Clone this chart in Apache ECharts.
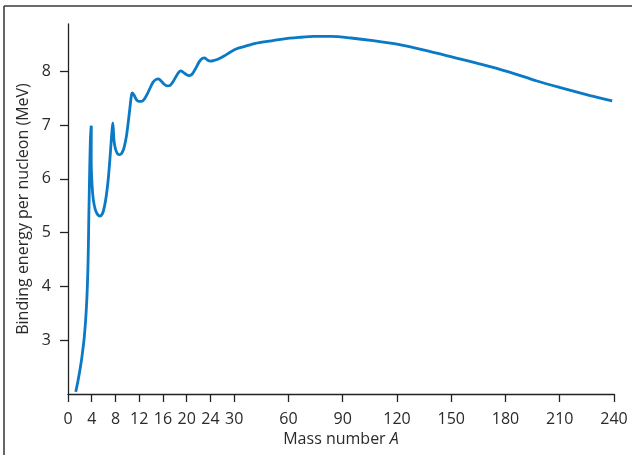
<!DOCTYPE html>
<html>
<head>
<meta charset="utf-8">
<script src="https://cdn.jsdelivr.net/npm/echarts@6/dist/echarts.min.js"></script>
<style>
html,body{margin:0;padding:0;background:#fff;}
#chart{width:632px;height:455px;}
</style>
</head>
<body>
<div id="chart"></div>
<script>
// Mass number A (along the drawn curve, in drawing order)
const massNumber = [
  1.30, 1.64, 1.95, 2.22, 2.45, 2.71, 2.98, 3.17, 3.30, 3.39, 3.45, 3.50, 3.56, 3.62, 3.69, 3.77, 3.89, 3.93,
  3.91, 4.05, 4.27, 4.60, 5.03, 5.37, 5.79, 6.13, 6.47, 6.80, 7.11, 7.35, 7.53,
  7.63, 7.74, 7.99, 8.33, 8.75, 9.17, 9.51, 9.85, 10.19, 10.50, 10.70, 10.87,
  11.12, 11.55, 11.97, 12.42, 12.90, 13.32, 13.83, 14.34, 14.85, 15.27, 15.69,
  16.20, 16.71, 17.22, 17.72, 18.23, 18.65, 18.99, 19.42, 19.92, 20.43, 20.94,
  21.53, 22.12, 22.63, 23.05, 23.48, 23.99, 24.74, 26.0, 27.54, 29.06,
  31.3, 36.3, 41.8, 49.1, 56.8, 65.7, 74.1, 83.5, 94.6, 106.8, 120.7, 135.7,
  151.3, 166.8, 181.8, 197.4, 212.4, 226.8, 239.0
];
// Binding energy per nucleon (MeV)
const bindingEnergy = [
  2.04, 2.22, 2.41, 2.59, 2.78, 3.02, 3.39, 3.76, 4.13, 4.50, 4.87, 5.24, 5.61, 5.98, 6.35, 6.72, 6.96, 6.99,
  6.35, 5.89, 5.61, 5.43, 5.33, 5.31, 5.35, 5.48, 5.70, 6.02, 6.44, 6.81, 7.04,
  6.94, 6.72, 6.56, 6.47, 6.45, 6.50, 6.61, 6.80, 7.09, 7.39, 7.56, 7.60,
  7.56, 7.47, 7.44, 7.44, 7.49, 7.57, 7.69, 7.80, 7.85, 7.86, 7.82,
  7.76, 7.73, 7.74, 7.81, 7.91, 7.98, 8.01, 7.98, 7.94, 7.92, 7.95,
  8.06, 8.18, 8.24, 8.25, 8.21, 8.19, 8.20, 8.23, 8.29, 8.36,
  8.42, 8.47, 8.52, 8.56, 8.60, 8.63, 8.65, 8.65, 8.62, 8.57, 8.50, 8.39,
  8.26, 8.13, 7.99, 7.82, 7.68, 7.55, 7.45
];
// x-axis tick labels and their slots on the (broken) mass scale
const xTickValues = [0, 4, 8, 12, 16, 20, 24, 30, 60, 90, 120, 150, 180, 210, 240];
const xTickSlots  = [0, 1, 2, 3, 4, 5, 6, 7, 9.285, 11.57, 13.855, 16.14, 18.425, 20.71, 22.995];
const yTickValues = [3, 4, 5, 6, 7, 8];

function warp(a) {
  for (let i = 0; i < xTickValues.length - 1; i++) {
    const a0 = xTickValues[i], a1 = xTickValues[i + 1];
    if (a <= a1 || i === xTickValues.length - 2) {
      return xTickSlots[i] + (a - a0) / (a1 - a0) * (xTickSlots[i + 1] - xTickSlots[i]);
    }
  }
}

const seriesData = massNumber.map((a, i) => [warp(a), bindingEnergy[i]]);
const font = 'Open Sans';
const txt = '#2a2a2a';

const chart = echarts.init(document.getElementById('chart'));
chart.setOption({
  animation: false,
  backgroundColor: '#fff',
  grid: { left: 68, right: 18, top: 24, bottom: 61 },
  xAxis: {
    type: 'value',
    min: 0,
    max: xTickSlots[xTickSlots.length - 1],
    name: 'Mass number {i|A}',
    nameLocation: 'middle',
    nameGap: 36,
    nameTextStyle: {
      color: txt, fontFamily: font, fontSize: 16,
      rich: { i: { fontStyle: 'italic', color: txt, fontFamily: font, fontSize: 16 } }
    },
    axisLine: { show: true, lineStyle: { color: '#222', width: 1.3 } },
    axisTick: { show: true, inside: false, length: 8, customValues: xTickSlots, lineStyle: { color: '#222', width: 1.3 } },
    axisLabel: {
      customValues: xTickSlots,
      color: txt, fontFamily: font, fontSize: 16, margin: 17,
      formatter: v => {
        let best = 0;
        xTickSlots.forEach((s, i) => { if (Math.abs(s - v) < Math.abs(xTickSlots[best] - v)) best = i; });
        return String(xTickValues[best]);
      }
    },
    splitLine: { show: false }
  },
  yAxis: {
    type: 'value',
    min: 2,
    max: 8.88,
    name: 'Binding energy per nucleon (MeV)',
    nameLocation: 'middle',
    nameGap: 34,
    nameTextStyle: { color: txt, fontFamily: font, fontSize: 16 },
    axisLine: { show: true, lineStyle: { color: '#222', width: 1.3 } },
    axisTick: { show: true, inside: false, length: 8, customValues: yTickValues, lineStyle: { color: '#222', width: 1.3 } },
    axisLabel: { customValues: yTickValues, color: txt, fontFamily: font, fontSize: 16, margin: 17 },
    splitLine: { show: false }
  },
  graphic: [
    { type: 'line', shape: { x1: 4, y1: 6, x2: 632, y2: 6 }, style: { stroke: '#6b6b6b', lineWidth: 2 } },
    { type: 'line', shape: { x1: 4, y1: 6, x2: 4, y2: 455 }, style: { stroke: '#333', lineWidth: 1.5 } }
  ],
  series: [{
    type: 'line',
    data: seriesData,
    showSymbol: false,
    smooth: 0.25,
    lineStyle: { color: '#0a79c6', width: 2.8 },
    clip: false
  }]
});
</script>
</body>
</html>
